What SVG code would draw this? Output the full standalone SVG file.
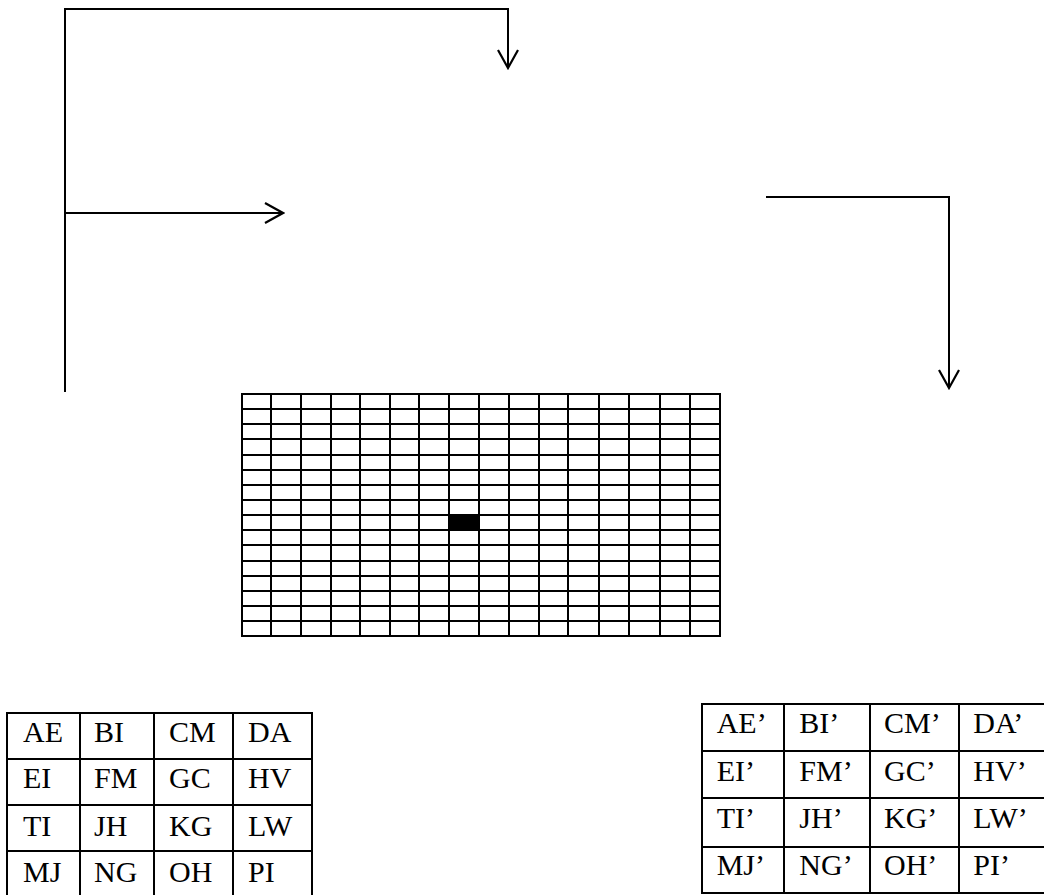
<svg xmlns="http://www.w3.org/2000/svg" width="1044" height="895" viewBox="0 0 1044 895">
<style>
.ln{stroke:#000;stroke-width:2;fill:none}
.g{stroke:#000;stroke-width:2;fill:none}
.t{font-family:"Liberation Serif","Times New Roman",serif;font-size:30px;fill:#000}
</style>
<defs>
<marker id="ah" viewBox="-20 -12 22 24" markerWidth="22" markerHeight="24" refX="0" refY="0" orient="auto" markerUnits="userSpaceOnUse">
<path d="M-18,-10 L0,0 L-18,10" fill="none" stroke="#000" stroke-width="2.2"/>
</marker>
</defs>
<rect width="1044" height="895" fill="#fff"/>
<g id="connectors">
<path class="ln" d="M65,392 V9 H508 V68" marker-end="url(#ah)"/>
<path class="ln" d="M65,213 H283" marker-end="url(#ah)"/>
<path class="ln" d="M766,197 H949 V388" marker-end="url(#ah)"/>
</g>
<g id="grid">
<rect x="449" y="515" width="30" height="15" fill="#000"/>
<path class="g" d="M242,394V636M271,394V636M301,394V636M331,394V636M360,394V636M390,394V636M419,394V636M449,394V636M479,394V636M509,394V636M539,394V636M568,394V636M599,394V636M629,394V636M660,394V636M690,394V636M720,394V636"/>
<path class="g" d="M241,394H721M241,409H721M241,424H721M241,439H721M241,455H721M241,470H721M241,485H721M241,500H721M241,515H721M241,530H721M241,545H721M241,561H721M241,576H721M241,591H721M241,606H721M241,621H721M241,636H721"/>
</g>
<g id="table-left">
<path class="g" d="M7,713V896M80,713V896M154,713V896M233,713V896M312,713V896M6,713H313M6,759H313M6,805H313M6,851H313"/>
<text class="t" x="23" y="741.7">AE</text><text class="t" x="94" y="741.7">BI</text><text class="t" x="169" y="741.7">CM</text><text class="t" x="248" y="741.7">DA</text>
<text class="t" x="23" y="788.3">EI</text><text class="t" x="94" y="788.3">FM</text><text class="t" x="169" y="788.3">GC</text><text class="t" x="248" y="788.3">HV</text>
<text class="t" x="23" y="835.7">TI</text><text class="t" x="94" y="835.7">JH</text><text class="t" x="169" y="835.7">KG</text><text class="t" x="248" y="835.7">LW</text>
<text class="t" x="23" y="881.7">MJ</text><text class="t" x="94" y="881.7">NG</text><text class="t" x="169" y="881.7">OH</text><text class="t" x="248" y="881.7">PI</text>
</g>
<g id="table-right">
<path class="g" d="M702,704V893M784,704V893M870,704V893M959,704V893M701,704H1045M701,751H1045M701,798H1045M701,847H1045M701,893H1045"/>
<text class="t" x="716.7" y="733.3">AE’</text><text class="t" x="799.3" y="733.3">BI’</text><text class="t" x="884" y="733.3">CM’</text><text class="t" x="973.3" y="733.3">DA’</text>
<text class="t" x="716.7" y="780.7">EI’</text><text class="t" x="799.3" y="780.7">FM’</text><text class="t" x="884" y="780.7">GC’</text><text class="t" x="973.3" y="780.7">HV’</text>
<text class="t" x="716.7" y="828.3">TI’</text><text class="t" x="799.3" y="828.3">JH’</text><text class="t" x="884" y="828.3">KG’</text><text class="t" x="973.3" y="828.3">LW’</text>
<text class="t" x="716.7" y="875">MJ’</text><text class="t" x="799.3" y="875">NG’</text><text class="t" x="884" y="875">OH’</text><text class="t" x="973.3" y="875">PI’</text>
</g>
</svg>
